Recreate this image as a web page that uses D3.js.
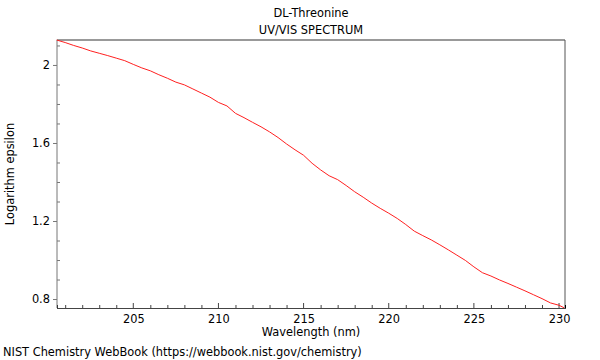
<!DOCTYPE html>
<html><head><meta charset="utf-8">
<script src="https://cdn.jsdelivr.net/npm/d3@7"></script>
<style>body{margin:0;background:#fff}svg{display:block}text{font-family:"DejaVu Sans",sans-serif;fill:#000}</style>
</head><body>
<svg id="c" width="600" height="360"></svg>
<script>
const wavelengths = [200.5,201,201.5,202,202.5,203,203.5,204,204.5,205,205.5,206,206.5,207,207.5,208,208.5,209,209.5,210,210.5,211,211.5,212,212.5,213,213.5,214,214.5,215,215.5,216,216.5,217,217.5,218,218.5,219,219.5,220,220.5,221,221.5,222,222.5,223,223.5,224,224.5,225,225.5,226,226.5,227,227.5,228,228.5,229,229.5,230,230.3];
const logEpsilon = [2.128,2.115,2.100,2.087,2.072,2.060,2.048,2.035,2.022,2.003,1.985,1.970,1.950,1.932,1.912,1.898,1.877,1.856,1.835,1.808,1.790,1.752,1.730,1.706,1.683,1.657,1.628,1.595,1.565,1.537,1.496,1.462,1.432,1.412,1.382,1.350,1.322,1.292,1.265,1.240,1.213,1.182,1.148,1.125,1.103,1.078,1.052,1.025,0.998,0.965,0.935,0.918,0.898,0.880,0.861,0.842,0.822,0.802,0.780,0.768,0.755];
const xTicks = [205,210,215,220,225,230];
const yTicks = [0.8,1.2,1.6,2];
const titleLines = ["DL-Threonine","UV/VIS SPECTRUM"];

const FS = 11.4;
const svg = d3.select("#c");
const L=57,R=565,T=40,B=308;
const x = d3.scaleLinear().domain([200.52,230.35]).range([L,R]);
const y = d3.scaleLinear().domain([0.754,2.128]).range([B,T]);

// frame
svg.append("line").attr("x1",L).attr("x2",R).attr("y1",T).attr("y2",T).attr("stroke","#999").attr("stroke-width",2);
svg.append("line").attr("x1",R).attr("x2",R).attr("y1",T).attr("y2",B).attr("stroke","#555");

// x axis
const xMinor = d3.range(201,231,1).filter(v=>!xTicks.includes(v));
const gx = svg.append("g").attr("transform",`translate(0,${B})`);
gx.call(d3.axisTop(x).tickValues(xMinor).tickSize(3).tickFormat(""));
gx.call(g=>g.selectAll(".tick line").attr("stroke","#444"));
const gx2 = svg.append("g").attr("transform",`translate(0,${B})`);
gx2.call(d3.axisBottom(x).tickValues(xTicks).tickSize(0).tickPadding(7).tickFormat(d3.format("d")));
gx2.selectAll("text").attr("font-size",FS).attr("font-family","DejaVu Sans");
gx2.select(".domain").attr("stroke","#444");
xTicks.forEach(v=>svg.append("line").attr("x1",x(v)).attr("x2",x(v)).attr("y1",B).attr("y2",B-5).attr("stroke","#444"));

// y axis
const yMinor = d3.range(0.8,2.15,0.1).map(v=>+v.toFixed(1)).filter(v=>!yTicks.some(t=>Math.abs(t-v)<1e-6));
const gy = svg.append("g").attr("transform",`translate(${L},0)`);
gy.call(d3.axisRight(y).tickValues(yMinor).tickSize(3).tickFormat(""));
gy.selectAll(".tick line").attr("stroke","#777");
gy.select(".domain").remove();
const gy2 = svg.append("g").attr("transform",`translate(${L},0)`);
gy2.call(d3.axisLeft(y).tickValues(yTicks).tickSize(4).tickPadding(3).tickFormat(d=>String(d)));
gy2.selectAll("text").attr("font-size",FS).attr("font-family","DejaVu Sans");
gy2.selectAll(".tick line").attr("stroke","#777");
gy2.select(".domain").attr("stroke","#777").attr("d",`M0,${T}V${B}`);

// line
const line = d3.line().x((d,i)=>x(wavelengths[i])).y(d=>y(d));
svg.append("path").datum(logEpsilon).attr("d",line).attr("fill","none").attr("stroke","#ff2020").attr("stroke-width",1);

// texts
svg.append("text").attr("x",311).attr("y",17).attr("text-anchor","middle").attr("font-size",FS).text(titleLines[0]);
svg.append("text").attr("x",311).attr("y",34).attr("text-anchor","middle").attr("font-size",FS).text(titleLines[1]);
svg.append("text").attr("x",311).attr("y",336).attr("text-anchor","middle").attr("font-size",FS).text("Wavelength (nm)");
svg.append("text").attr("transform","translate(14,174) rotate(-90)").attr("text-anchor","middle").attr("font-size",FS).text("Logarithm epsilon");
svg.append("text").attr("x",3).attr("y",356).attr("font-size",FS).text("NIST Chemistry WebBook (https://webbook.nist.gov/chemistry)");
</script>
</body></html>
